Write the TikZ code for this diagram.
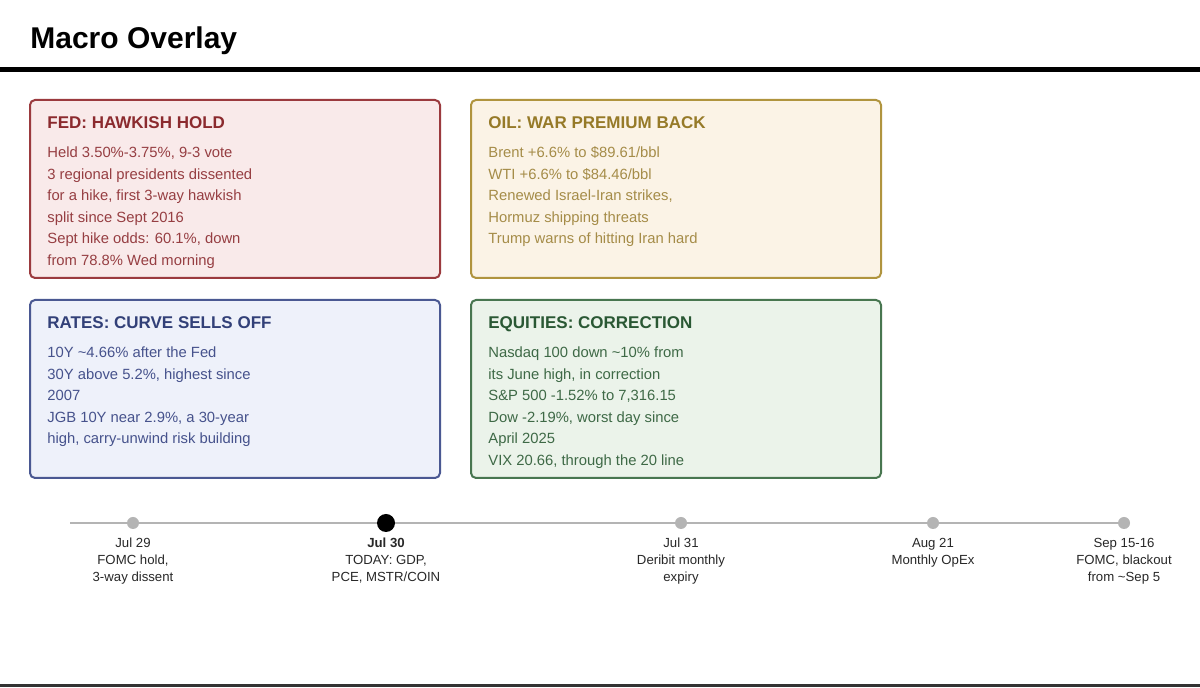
\documentclass[tikz,border=0pt]{standalone}
\usepackage{fontspec}
\setmainfont{Liberation Sans}
\usepackage{tikz}
\usetikzlibrary{positioning}
\definecolor{fedline}{RGB}{155, 58, 62}
\definecolor{fedfill}{RGB}{249, 234, 234}
\definecolor{fedhead}{RGB}{139, 42, 46}
\definecolor{fedbody}{RGB}{150, 62, 66}
\definecolor{oilline}{RGB}{176, 148, 62}
\definecolor{oilfill}{RGB}{251, 243, 230}
\definecolor{oilhead}{RGB}{150, 122, 40}
\definecolor{oilbody}{RGB}{165, 140, 72}
\definecolor{rateline}{RGB}{74, 88, 146}
\definecolor{ratefill}{RGB}{238, 241, 250}
\definecolor{ratehead}{RGB}{50, 64, 120}
\definecolor{ratebody}{RGB}{70, 82, 140}
\definecolor{eqline}{RGB}{72, 118, 80}
\definecolor{eqfill}{RGB}{235, 243, 234}
\definecolor{eqhead}{RGB}{42, 88, 52}
\definecolor{eqbody}{RGB}{62, 105, 70}
\definecolor{tlgray}{RGB}{180, 180, 180}
\definecolor{tltext}{RGB}{40, 40, 40}

\begin{document}
\begin{tikzpicture}[x=0.5pt, y=-0.5pt,
    card/.style={draw, line width=1pt, rounded corners=2.5pt, anchor=north west,
      minimum width=205pt, minimum height=89pt, inner sep=0pt},
    cardhead/.style={anchor=base west, inner sep=0pt, font=\fontsize{8.5}{10}\selectfont\bfseries},
    cardbody/.style={anchor=base west, inner sep=0pt, align=left, font=\fontsize{7.4}{10.75}\selectfont},
    event/.style={anchor=base, inner sep=0pt, align=center, text=tltext, font=\fontsize{6.6}{8.4}\selectfont},
    tldot/.style={circle, fill=tlgray, minimum size=6pt, inner sep=0pt},
    tltoday/.style={circle, fill=black, minimum size=9pt, inner sep=0pt}]
  \useasboundingbox (0, 0) rectangle (1200, 688);
  \fill[white] (0, 0) rectangle (1200, 688);

  % Header
  \node[anchor=base west, inner sep=0pt, font=\fontsize{15}{18}\selectfont\bfseries] (title) at (30, 49) {Macro Overlay};
  \draw[line width=2.5pt] (0, 70) -- (1200, 70);
  \draw[line width=1.5pt, black!80] (0, 686) -- (1200, 686);

  % Cards (body nodes sit on the baseline of their last line)
  \node[card, draw=fedline, fill=fedfill] (fed) at (29, 99) {};
  \node[cardhead, text=fedhead] (fedtitle) at (47, 129) {FED: HAWKISH HOLD};
  \node[cardbody, text=fedbody] (fedtext) at (47, 265.5) {Held 3.50\%-3.75\%, 9-3 vote\\3 regional presidents dissented\\for a hike, first 3-way hawkish\\split since Sept 2016\\Sept hike odds: 60.1\%, down\\from 78.8\% Wed morning};

  \node[card, draw=oilline, fill=oilfill] (oil) at (470, 99) {};
  \node[cardhead, text=oilhead] (oiltitle) at (488, 129) {OIL: WAR PREMIUM BACK};
  \node[cardbody, text=oilbody] (oiltext) at (488, 244) {Brent +6.6\% to \$89.61/bbl\\WTI +6.6\% to \$84.46/bbl\\Renewed Israel-Iran strikes,\\Hormuz shipping threats\\Trump warns of hitting Iran hard};

  \node[card, draw=rateline, fill=ratefill] (rates) at (29, 299) {};
  \node[cardhead, text=ratehead] (ratestitle) at (47, 329) {RATES: CURVE SELLS OFF};
  \node[cardbody, text=ratebody] (ratestext) at (47, 444) {10Y \textasciitilde4.66\% after the Fed\\30Y above 5.2\%, highest since\\2007\\JGB 10Y near 2.9\%, a 30-year\\high, carry-unwind risk building};

  \node[card, draw=eqline, fill=eqfill] (eq) at (470, 299) {};
  \node[cardhead, text=eqhead] (eqtitle) at (488, 329) {EQUITIES: CORRECTION};
  \node[cardbody, text=eqbody] (eqtext) at (488, 465.5) {Nasdaq 100 down \textasciitilde10\% from\\its June high, in correction\\S\&P 500 -1.52\% to 7,316.15\\Dow -2.19\%, worst day since\\April 2025\\VIX 20.66, through the 20 line};

  % Timeline
  \coordinate (tlstart) at (70, 523);
  \node[tldot] (jul29) at (133, 523) {};
  \node[tltoday] (jul30) at (386, 523) {};
  \node[tldot] (jul31) at (681, 523) {};
  \node[tldot] (aug21) at (933, 523) {};
  \node[tldot] (sep15) at (1124, 523) {};
  \draw[tlgray, line width=1.2pt] (tlstart) -- (jul29) -- (jul30) -- (jul31) -- (aug21) -- (sep15);

  \node[event] (jul29txt) at (133, 581.6) {Jul 29\\FOMC hold,\\3-way dissent};
  \node[event] (jul30txt) at (386, 581.6) {\textbf{Jul 30}\\TODAY: GDP,\\PCE, MSTR/COIN};
  \node[event] (jul31txt) at (681, 581.6) {Jul 31\\Deribit monthly\\expiry};
  \node[event] (aug21txt) at (933, 564.8) {Aug 21\\Monthly OpEx};
  \node[event] (sep15txt) at (1124, 581.6) {Sep 15-16\\FOMC, blackout\\from \textasciitilde Sep 5};
\end{tikzpicture}
\end{document}
